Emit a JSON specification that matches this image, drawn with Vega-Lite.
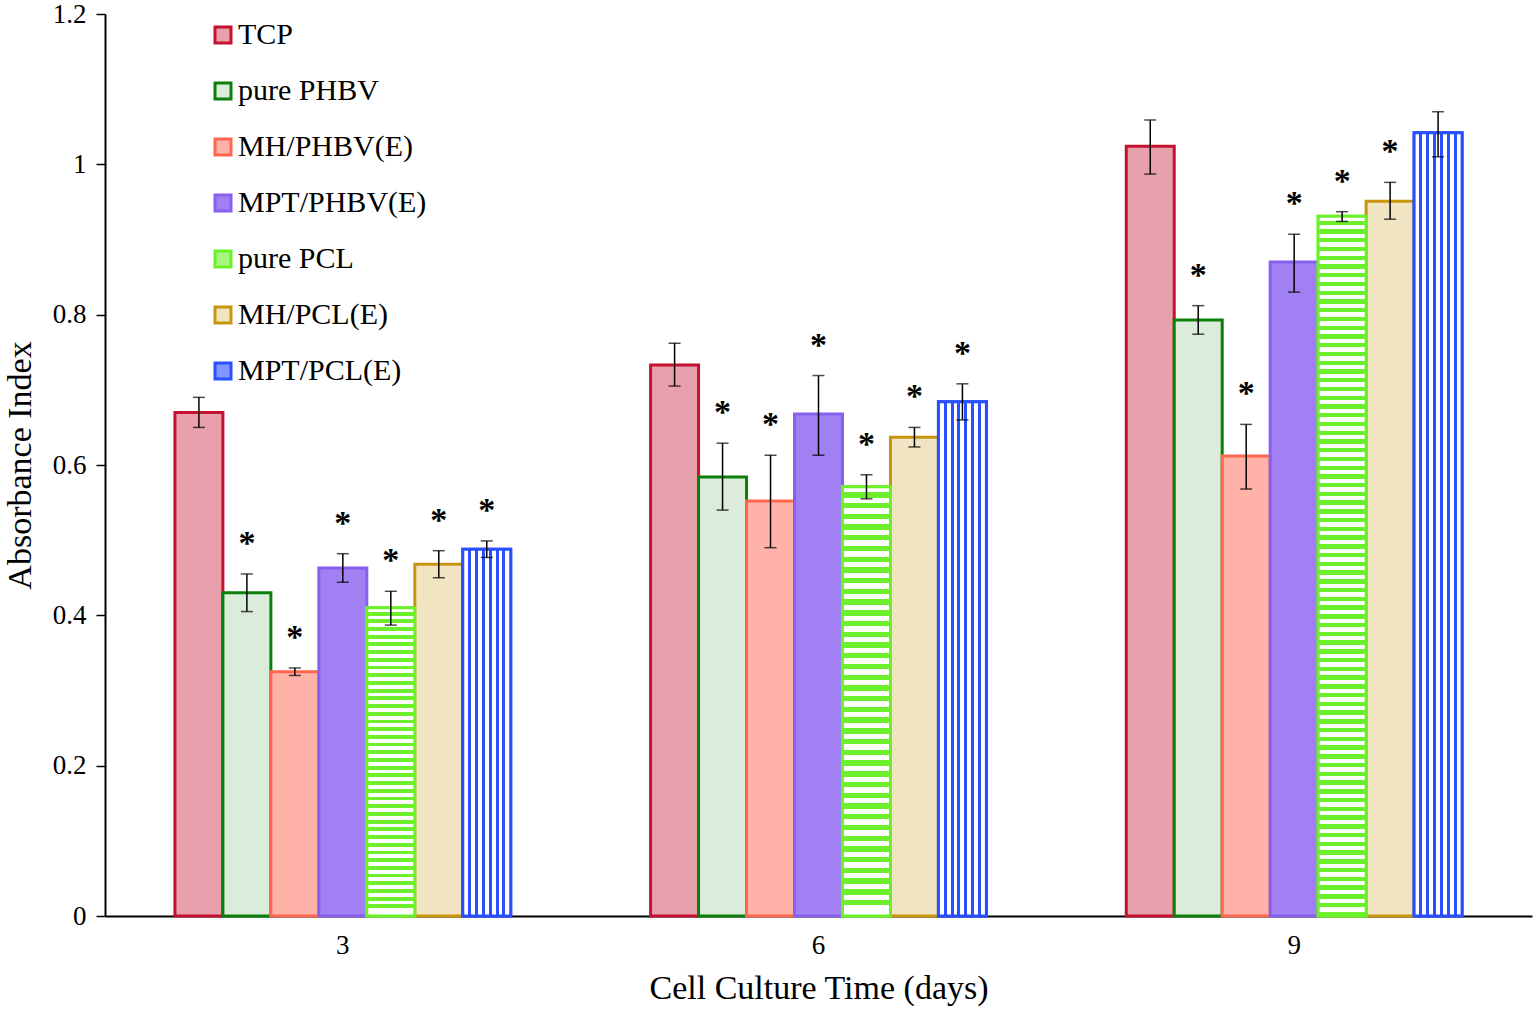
{
  "$schema": "https://vega.github.io/schema/vega-lite/v6.json",
  "width": 1427,
  "height": 902,
  "autosize": {"type": "none"},
  "padding": {"left": 105, "top": 14, "right": 4, "bottom": 94},
  "background": "white",
  "config": {
    "font": "Liberation Serif",
    "view": {"stroke": null},
    "axis": {
      "grid": false,
      "domainColor": "black",
      "domainWidth": 2,
      "tickColor": "black",
      "labelColor": "black",
      "titleColor": "black",
      "labelFont": "Liberation Serif",
      "titleFont": "Liberation Serif",
      "titleFontWeight": "normal"
    },
    "legend": {
      "orient": "none",
      "legendX": 103,
      "legendY": 6,
      "padding": 0,
      "labelFont": "Liberation Serif",
      "labelFontSize": 30,
      "labelColor": "black",
      "labelLimit": 400,
      "labelOffset": 0,
      "symbolType": "square",
      "symbolSize": 256,
      "symbolStrokeWidth": 3,
      "rowPadding": 26
    }
  },
  "data": {
    "values": [
      {"day": "3", "sample": "TCP", "value": 0.670, "lo": 0.650, "hi": 0.690, "sig": ""},
      {"day": "3", "sample": "pure PHBV", "value": 0.430, "lo": 0.405, "hi": 0.455, "sig": "*"},
      {"day": "3", "sample": "MH/PHBV(E)", "value": 0.325, "lo": 0.320, "hi": 0.330, "sig": "*"},
      {"day": "3", "sample": "MPT/PHBV(E)", "value": 0.463, "lo": 0.444, "hi": 0.482, "sig": "*"},
      {"day": "3", "sample": "pure PCL", "value": 0.410, "lo": 0.387, "hi": 0.432, "sig": "*"},
      {"day": "3", "sample": "MH/PCL(E)", "value": 0.468, "lo": 0.450, "hi": 0.486, "sig": "*"},
      {"day": "3", "sample": "MPT/PCL(E)", "value": 0.488, "lo": 0.477, "hi": 0.499, "sig": "*"},
      {"day": "6", "sample": "TCP", "value": 0.733, "lo": 0.705, "hi": 0.762, "sig": ""},
      {"day": "6", "sample": "pure PHBV", "value": 0.584, "lo": 0.540, "hi": 0.629, "sig": "*"},
      {"day": "6", "sample": "MH/PHBV(E)", "value": 0.552, "lo": 0.490, "hi": 0.613, "sig": "*"},
      {"day": "6", "sample": "MPT/PHBV(E)", "value": 0.668, "lo": 0.613, "hi": 0.719, "sig": "*"},
      {"day": "6", "sample": "pure PCL", "value": 0.571, "lo": 0.555, "hi": 0.587, "sig": "*"},
      {"day": "6", "sample": "MH/PCL(E)", "value": 0.637, "lo": 0.624, "hi": 0.650, "sig": "*"},
      {"day": "6", "sample": "MPT/PCL(E)", "value": 0.684, "lo": 0.660, "hi": 0.708, "sig": "*"},
      {"day": "9", "sample": "TCP", "value": 1.024, "lo": 0.987, "hi": 1.059, "sig": ""},
      {"day": "9", "sample": "pure PHBV", "value": 0.793, "lo": 0.774, "hi": 0.812, "sig": "*"},
      {"day": "9", "sample": "MH/PHBV(E)", "value": 0.612, "lo": 0.568, "hi": 0.654, "sig": "*"},
      {"day": "9", "sample": "MPT/PHBV(E)", "value": 0.870, "lo": 0.830, "hi": 0.907, "sig": "*"},
      {"day": "9", "sample": "pure PCL", "value": 0.931, "lo": 0.924, "hi": 0.937, "sig": "*"},
      {"day": "9", "sample": "MH/PCL(E)", "value": 0.951, "lo": 0.927, "hi": 0.976, "sig": "*"},
      {"day": "9", "sample": "MPT/PCL(E)", "value": 1.042, "lo": 1.010, "hi": 1.070, "sig": ""}
    ]
  },
  "encoding": {
    "x": {
      "field": "day",
      "type": "ordinal",
      "scale": {"paddingInner": 0.294, "paddingOuter": 0.147},
      "axis": {
        "title": "Cell Culture Time (days)",
        "titleFontSize": 34,
        "titlePadding": 13,
        "labelFontSize": 27,
        "labelAngle": 0,
        "labelPadding": 16,
        "ticks": false
      }
    },
    "xOffset": {
      "field": "sample",
      "type": "nominal",
      "sort": ["TCP", "pure PHBV", "MH/PHBV(E)", "MPT/PHBV(E)", "pure PCL", "MH/PCL(E)", "MPT/PCL(E)"],
      "scale": {"paddingInner": 0, "paddingOuter": 0}
    },
    "y": {
      "field": "value",
      "type": "quantitative",
      "scale": {"domain": [0, 1.2], "nice": false},
      "axis": {
        "title": "Absorbance Index",
        "titleFontSize": 34,
        "titleX": -68,
        "labelFontSize": 27,
        "labelPadding": 10,
        "tickSize": 9,
        "tickWidth": 1.5,
        "values": [0, 0.2, 0.4, 0.6, 0.8, 1, 1.2],
        "format": ".1~f"
      }
    }
  },
  "layer": [
    {
      "mark": {"type": "bar", "strokeWidth": 3},
      "encoding": {
        "fill": {
          "field": "sample",
          "type": "nominal",
          "title": null,
          "scale": {
            "domain": ["TCP", "pure PHBV", "MH/PHBV(E)", "MPT/PHBV(E)", "pure PCL", "MH/PCL(E)", "MPT/PCL(E)"],
            "range": ["#e7a0ac", "#dbecdb", "#ffb3a8", "#a080f3", "#a7f67f", "#f1e4c2", "#7f95ff"]
          }
        },
        "stroke": {
          "field": "sample",
          "type": "nominal",
          "title": null,
          "scale": {
            "domain": ["TCP", "pure PHBV", "MH/PHBV(E)", "MPT/PHBV(E)", "pure PCL", "MH/PCL(E)", "MPT/PCL(E)"],
            "range": ["#c41230", "#0a800a", "#ff6650", "#8860f0", "#6cf02a", "#c8960c", "#2a4fff"]
          }
        }
      }
    },
    {
      "transform": [{"filter": "datum.sample === 'MPT/PCL(E)'"}],
      "mark": {
        "type": "bar",
        "stroke": "#2a4fff",
        "strokeWidth": 3,
        "fill": {
          "gradient": "linear",
          "x1": 0, "y1": 0, "x2": 1, "y2": 0,
          "stops": [
            {"offset": 0, "color": "white"},
            {"offset": 0.1116, "color": "white"}, {"offset": 0.1116, "color": "#2a4fff"},
            {"offset": 0.1741, "color": "#2a4fff"}, {"offset": 0.1741, "color": "white"},
            {"offset": 0.2545, "color": "white"}, {"offset": 0.2545, "color": "#2a4fff"},
            {"offset": 0.3170, "color": "#2a4fff"}, {"offset": 0.3170, "color": "white"},
            {"offset": 0.3973, "color": "white"}, {"offset": 0.3973, "color": "#2a4fff"},
            {"offset": 0.4598, "color": "#2a4fff"}, {"offset": 0.4598, "color": "white"},
            {"offset": 0.5402, "color": "white"}, {"offset": 0.5402, "color": "#2a4fff"},
            {"offset": 0.6027, "color": "#2a4fff"}, {"offset": 0.6027, "color": "white"},
            {"offset": 0.6830, "color": "white"}, {"offset": 0.6830, "color": "#2a4fff"},
            {"offset": 0.7455, "color": "#2a4fff"}, {"offset": 0.7455, "color": "white"},
            {"offset": 0.8259, "color": "white"}, {"offset": 0.8259, "color": "#2a4fff"},
            {"offset": 0.8884, "color": "#2a4fff"}, {"offset": 0.8884, "color": "white"},
            {"offset": 1, "color": "white"}
          ]
        }
      }
    },
    {
      "transform": [{"filter": "datum.sample === 'pure PCL' && datum.day !== '9'"}],
      "mark": {
        "type": "bar",
        "stroke": "#6cf02a",
        "strokeWidth": 3,
        "fill": {
          "gradient": "linear",
          "x1": 0, "y1": 0, "x2": 0, "y2": 1,
          "stops": [
            {"offset": 0, "color": "white"},
            {"offset": 0.0125, "color": "white"}, {"offset": 0.0125, "color": "#6cf02a"}, {"offset": 0.025, "color": "#6cf02a"}, {"offset": 0.025, "color": "white"},
            {"offset": 0.0375, "color": "white"}, {"offset": 0.0375, "color": "#6cf02a"}, {"offset": 0.05, "color": "#6cf02a"}, {"offset": 0.05, "color": "white"},
            {"offset": 0.0625, "color": "white"}, {"offset": 0.0625, "color": "#6cf02a"}, {"offset": 0.075, "color": "#6cf02a"}, {"offset": 0.075, "color": "white"},
            {"offset": 0.0875, "color": "white"}, {"offset": 0.0875, "color": "#6cf02a"}, {"offset": 0.1, "color": "#6cf02a"}, {"offset": 0.1, "color": "white"},
            {"offset": 0.1125, "color": "white"}, {"offset": 0.1125, "color": "#6cf02a"}, {"offset": 0.125, "color": "#6cf02a"}, {"offset": 0.125, "color": "white"},
            {"offset": 0.1375, "color": "white"}, {"offset": 0.1375, "color": "#6cf02a"}, {"offset": 0.15, "color": "#6cf02a"}, {"offset": 0.15, "color": "white"},
            {"offset": 0.1625, "color": "white"}, {"offset": 0.1625, "color": "#6cf02a"}, {"offset": 0.175, "color": "#6cf02a"}, {"offset": 0.175, "color": "white"},
            {"offset": 0.1875, "color": "white"}, {"offset": 0.1875, "color": "#6cf02a"}, {"offset": 0.2, "color": "#6cf02a"}, {"offset": 0.2, "color": "white"},
            {"offset": 0.2125, "color": "white"}, {"offset": 0.2125, "color": "#6cf02a"}, {"offset": 0.225, "color": "#6cf02a"}, {"offset": 0.225, "color": "white"},
            {"offset": 0.2375, "color": "white"}, {"offset": 0.2375, "color": "#6cf02a"}, {"offset": 0.25, "color": "#6cf02a"}, {"offset": 0.25, "color": "white"},
            {"offset": 0.2625, "color": "white"}, {"offset": 0.2625, "color": "#6cf02a"}, {"offset": 0.275, "color": "#6cf02a"}, {"offset": 0.275, "color": "white"},
            {"offset": 0.2875, "color": "white"}, {"offset": 0.2875, "color": "#6cf02a"}, {"offset": 0.3, "color": "#6cf02a"}, {"offset": 0.3, "color": "white"},
            {"offset": 0.3125, "color": "white"}, {"offset": 0.3125, "color": "#6cf02a"}, {"offset": 0.325, "color": "#6cf02a"}, {"offset": 0.325, "color": "white"},
            {"offset": 0.3375, "color": "white"}, {"offset": 0.3375, "color": "#6cf02a"}, {"offset": 0.35, "color": "#6cf02a"}, {"offset": 0.35, "color": "white"},
            {"offset": 0.3625, "color": "white"}, {"offset": 0.3625, "color": "#6cf02a"}, {"offset": 0.375, "color": "#6cf02a"}, {"offset": 0.375, "color": "white"},
            {"offset": 0.3875, "color": "white"}, {"offset": 0.3875, "color": "#6cf02a"}, {"offset": 0.4, "color": "#6cf02a"}, {"offset": 0.4, "color": "white"},
            {"offset": 0.4125, "color": "white"}, {"offset": 0.4125, "color": "#6cf02a"}, {"offset": 0.425, "color": "#6cf02a"}, {"offset": 0.425, "color": "white"},
            {"offset": 0.4375, "color": "white"}, {"offset": 0.4375, "color": "#6cf02a"}, {"offset": 0.45, "color": "#6cf02a"}, {"offset": 0.45, "color": "white"},
            {"offset": 0.4625, "color": "white"}, {"offset": 0.4625, "color": "#6cf02a"}, {"offset": 0.475, "color": "#6cf02a"}, {"offset": 0.475, "color": "white"},
            {"offset": 0.4875, "color": "white"}, {"offset": 0.4875, "color": "#6cf02a"}, {"offset": 0.5, "color": "#6cf02a"}, {"offset": 0.5, "color": "white"},
            {"offset": 0.5125, "color": "white"}, {"offset": 0.5125, "color": "#6cf02a"}, {"offset": 0.525, "color": "#6cf02a"}, {"offset": 0.525, "color": "white"},
            {"offset": 0.5375, "color": "white"}, {"offset": 0.5375, "color": "#6cf02a"}, {"offset": 0.55, "color": "#6cf02a"}, {"offset": 0.55, "color": "white"},
            {"offset": 0.5625, "color": "white"}, {"offset": 0.5625, "color": "#6cf02a"}, {"offset": 0.575, "color": "#6cf02a"}, {"offset": 0.575, "color": "white"},
            {"offset": 0.5875, "color": "white"}, {"offset": 0.5875, "color": "#6cf02a"}, {"offset": 0.6, "color": "#6cf02a"}, {"offset": 0.6, "color": "white"},
            {"offset": 0.6125, "color": "white"}, {"offset": 0.6125, "color": "#6cf02a"}, {"offset": 0.625, "color": "#6cf02a"}, {"offset": 0.625, "color": "white"},
            {"offset": 0.6375, "color": "white"}, {"offset": 0.6375, "color": "#6cf02a"}, {"offset": 0.65, "color": "#6cf02a"}, {"offset": 0.65, "color": "white"},
            {"offset": 0.6625, "color": "white"}, {"offset": 0.6625, "color": "#6cf02a"}, {"offset": 0.675, "color": "#6cf02a"}, {"offset": 0.675, "color": "white"},
            {"offset": 0.6875, "color": "white"}, {"offset": 0.6875, "color": "#6cf02a"}, {"offset": 0.7, "color": "#6cf02a"}, {"offset": 0.7, "color": "white"},
            {"offset": 0.7125, "color": "white"}, {"offset": 0.7125, "color": "#6cf02a"}, {"offset": 0.725, "color": "#6cf02a"}, {"offset": 0.725, "color": "white"},
            {"offset": 0.7375, "color": "white"}, {"offset": 0.7375, "color": "#6cf02a"}, {"offset": 0.75, "color": "#6cf02a"}, {"offset": 0.75, "color": "white"},
            {"offset": 0.7625, "color": "white"}, {"offset": 0.7625, "color": "#6cf02a"}, {"offset": 0.775, "color": "#6cf02a"}, {"offset": 0.775, "color": "white"},
            {"offset": 0.7875, "color": "white"}, {"offset": 0.7875, "color": "#6cf02a"}, {"offset": 0.8, "color": "#6cf02a"}, {"offset": 0.8, "color": "white"},
            {"offset": 0.8125, "color": "white"}, {"offset": 0.8125, "color": "#6cf02a"}, {"offset": 0.825, "color": "#6cf02a"}, {"offset": 0.825, "color": "white"},
            {"offset": 0.8375, "color": "white"}, {"offset": 0.8375, "color": "#6cf02a"}, {"offset": 0.85, "color": "#6cf02a"}, {"offset": 0.85, "color": "white"},
            {"offset": 0.8625, "color": "white"}, {"offset": 0.8625, "color": "#6cf02a"}, {"offset": 0.875, "color": "#6cf02a"}, {"offset": 0.875, "color": "white"},
            {"offset": 0.8875, "color": "white"}, {"offset": 0.8875, "color": "#6cf02a"}, {"offset": 0.9, "color": "#6cf02a"}, {"offset": 0.9, "color": "white"},
            {"offset": 0.9125, "color": "white"}, {"offset": 0.9125, "color": "#6cf02a"}, {"offset": 0.925, "color": "#6cf02a"}, {"offset": 0.925, "color": "white"},
            {"offset": 0.9375, "color": "white"}, {"offset": 0.9375, "color": "#6cf02a"}, {"offset": 0.95, "color": "#6cf02a"}, {"offset": 0.95, "color": "white"},
            {"offset": 0.9625, "color": "white"}, {"offset": 0.9625, "color": "#6cf02a"}, {"offset": 0.975, "color": "#6cf02a"}, {"offset": 0.975, "color": "white"},
            {"offset": 1, "color": "white"}
          ]
        }
      }
    },
    {
      "transform": [{"filter": "datum.sample === 'pure PCL' && datum.day === '9'"}],
      "mark": {
        "type": "bar",
        "stroke": "#6cf02a",
        "strokeWidth": 3,
        "fill": {
          "gradient": "linear",
          "x1": 0, "y1": 0, "x2": 0, "y2": 1,
          "stops": [
            {"offset": 0, "color": "#fff"},
            {"offset": 0.00625, "color": "#fff"}, {"offset": 0.00625, "color": "#6cf02a"}, {"offset": 0.0125, "color": "#6cf02a"}, {"offset": 0.0125, "color": "#fff"},
            {"offset": 0.01875, "color": "#fff"}, {"offset": 0.01875, "color": "#6cf02a"}, {"offset": 0.025, "color": "#6cf02a"}, {"offset": 0.025, "color": "#fff"},
            {"offset": 0.03125, "color": "#fff"}, {"offset": 0.03125, "color": "#6cf02a"}, {"offset": 0.0375, "color": "#6cf02a"}, {"offset": 0.0375, "color": "#fff"},
            {"offset": 0.04375, "color": "#fff"}, {"offset": 0.04375, "color": "#6cf02a"}, {"offset": 0.05, "color": "#6cf02a"}, {"offset": 0.05, "color": "#fff"},
            {"offset": 0.05625, "color": "#fff"}, {"offset": 0.05625, "color": "#6cf02a"}, {"offset": 0.0625, "color": "#6cf02a"}, {"offset": 0.0625, "color": "#fff"},
            {"offset": 0.06875, "color": "#fff"}, {"offset": 0.06875, "color": "#6cf02a"}, {"offset": 0.075, "color": "#6cf02a"}, {"offset": 0.075, "color": "#fff"},
            {"offset": 0.08125, "color": "#fff"}, {"offset": 0.08125, "color": "#6cf02a"}, {"offset": 0.0875, "color": "#6cf02a"}, {"offset": 0.0875, "color": "#fff"},
            {"offset": 0.09375, "color": "#fff"}, {"offset": 0.09375, "color": "#6cf02a"}, {"offset": 0.1, "color": "#6cf02a"}, {"offset": 0.1, "color": "#fff"},
            {"offset": 0.10625, "color": "#fff"}, {"offset": 0.10625, "color": "#6cf02a"}, {"offset": 0.1125, "color": "#6cf02a"}, {"offset": 0.1125, "color": "#fff"},
            {"offset": 0.11875, "color": "#fff"}, {"offset": 0.11875, "color": "#6cf02a"}, {"offset": 0.125, "color": "#6cf02a"}, {"offset": 0.125, "color": "#fff"},
            {"offset": 0.13125, "color": "#fff"}, {"offset": 0.13125, "color": "#6cf02a"}, {"offset": 0.1375, "color": "#6cf02a"}, {"offset": 0.1375, "color": "#fff"},
            {"offset": 0.14375, "color": "#fff"}, {"offset": 0.14375, "color": "#6cf02a"}, {"offset": 0.15, "color": "#6cf02a"}, {"offset": 0.15, "color": "#fff"},
            {"offset": 0.15625, "color": "#fff"}, {"offset": 0.15625, "color": "#6cf02a"}, {"offset": 0.1625, "color": "#6cf02a"}, {"offset": 0.1625, "color": "#fff"},
            {"offset": 0.16875, "color": "#fff"}, {"offset": 0.16875, "color": "#6cf02a"}, {"offset": 0.175, "color": "#6cf02a"}, {"offset": 0.175, "color": "#fff"},
            {"offset": 0.18125, "color": "#fff"}, {"offset": 0.18125, "color": "#6cf02a"}, {"offset": 0.1875, "color": "#6cf02a"}, {"offset": 0.1875, "color": "#fff"},
            {"offset": 0.19375, "color": "#fff"}, {"offset": 0.19375, "color": "#6cf02a"}, {"offset": 0.2, "color": "#6cf02a"}, {"offset": 0.2, "color": "#fff"},
            {"offset": 0.20625, "color": "#fff"}, {"offset": 0.20625, "color": "#6cf02a"}, {"offset": 0.2125, "color": "#6cf02a"}, {"offset": 0.2125, "color": "#fff"},
            {"offset": 0.21875, "color": "#fff"}, {"offset": 0.21875, "color": "#6cf02a"}, {"offset": 0.225, "color": "#6cf02a"}, {"offset": 0.225, "color": "#fff"},
            {"offset": 0.23125, "color": "#fff"}, {"offset": 0.23125, "color": "#6cf02a"}, {"offset": 0.2375, "color": "#6cf02a"}, {"offset": 0.2375, "color": "#fff"},
            {"offset": 0.24375, "color": "#fff"}, {"offset": 0.24375, "color": "#6cf02a"}, {"offset": 0.25, "color": "#6cf02a"}, {"offset": 0.25, "color": "#fff"},
            {"offset": 0.25625, "color": "#fff"}, {"offset": 0.25625, "color": "#6cf02a"}, {"offset": 0.2625, "color": "#6cf02a"}, {"offset": 0.2625, "color": "#fff"},
            {"offset": 0.26875, "color": "#fff"}, {"offset": 0.26875, "color": "#6cf02a"}, {"offset": 0.275, "color": "#6cf02a"}, {"offset": 0.275, "color": "#fff"},
            {"offset": 0.28125, "color": "#fff"}, {"offset": 0.28125, "color": "#6cf02a"}, {"offset": 0.2875, "color": "#6cf02a"}, {"offset": 0.2875, "color": "#fff"},
            {"offset": 0.29375, "color": "#fff"}, {"offset": 0.29375, "color": "#6cf02a"}, {"offset": 0.3, "color": "#6cf02a"}, {"offset": 0.3, "color": "#fff"},
            {"offset": 0.30625, "color": "#fff"}, {"offset": 0.30625, "color": "#6cf02a"}, {"offset": 0.3125, "color": "#6cf02a"}, {"offset": 0.3125, "color": "#fff"},
            {"offset": 0.31875, "color": "#fff"}, {"offset": 0.31875, "color": "#6cf02a"}, {"offset": 0.325, "color": "#6cf02a"}, {"offset": 0.325, "color": "#fff"},
            {"offset": 0.33125, "color": "#fff"}, {"offset": 0.33125, "color": "#6cf02a"}, {"offset": 0.3375, "color": "#6cf02a"}, {"offset": 0.3375, "color": "#fff"},
            {"offset": 0.34375, "color": "#fff"}, {"offset": 0.34375, "color": "#6cf02a"}, {"offset": 0.35, "color": "#6cf02a"}, {"offset": 0.35, "color": "#fff"},
            {"offset": 0.35625, "color": "#fff"}, {"offset": 0.35625, "color": "#6cf02a"}, {"offset": 0.3625, "color": "#6cf02a"}, {"offset": 0.3625, "color": "#fff"},
            {"offset": 0.36875, "color": "#fff"}, {"offset": 0.36875, "color": "#6cf02a"}, {"offset": 0.375, "color": "#6cf02a"}, {"offset": 0.375, "color": "#fff"},
            {"offset": 0.38125, "color": "#fff"}, {"offset": 0.38125, "color": "#6cf02a"}, {"offset": 0.3875, "color": "#6cf02a"}, {"offset": 0.3875, "color": "#fff"},
            {"offset": 0.39375, "color": "#fff"}, {"offset": 0.39375, "color": "#6cf02a"}, {"offset": 0.4, "color": "#6cf02a"}, {"offset": 0.4, "color": "#fff"},
            {"offset": 0.40625, "color": "#fff"}, {"offset": 0.40625, "color": "#6cf02a"}, {"offset": 0.4125, "color": "#6cf02a"}, {"offset": 0.4125, "color": "#fff"},
            {"offset": 0.41875, "color": "#fff"}, {"offset": 0.41875, "color": "#6cf02a"}, {"offset": 0.425, "color": "#6cf02a"}, {"offset": 0.425, "color": "#fff"},
            {"offset": 0.43125, "color": "#fff"}, {"offset": 0.43125, "color": "#6cf02a"}, {"offset": 0.4375, "color": "#6cf02a"}, {"offset": 0.4375, "color": "#fff"},
            {"offset": 0.44375, "color": "#fff"}, {"offset": 0.44375, "color": "#6cf02a"}, {"offset": 0.45, "color": "#6cf02a"}, {"offset": 0.45, "color": "#fff"},
            {"offset": 0.45625, "color": "#fff"}, {"offset": 0.45625, "color": "#6cf02a"}, {"offset": 0.4625, "color": "#6cf02a"}, {"offset": 0.4625, "color": "#fff"},
            {"offset": 0.46875, "color": "#fff"}, {"offset": 0.46875, "color": "#6cf02a"}, {"offset": 0.475, "color": "#6cf02a"}, {"offset": 0.475, "color": "#fff"},
            {"offset": 0.48125, "color": "#fff"}, {"offset": 0.48125, "color": "#6cf02a"}, {"offset": 0.4875, "color": "#6cf02a"}, {"offset": 0.4875, "color": "#fff"},
            {"offset": 0.49375, "color": "#fff"}, {"offset": 0.49375, "color": "#6cf02a"}, {"offset": 0.5, "color": "#6cf02a"}, {"offset": 0.5, "color": "#fff"},
            {"offset": 0.50625, "color": "#fff"}, {"offset": 0.50625, "color": "#6cf02a"}, {"offset": 0.5125, "color": "#6cf02a"}, {"offset": 0.5125, "color": "#fff"},
            {"offset": 0.51875, "color": "#fff"}, {"offset": 0.51875, "color": "#6cf02a"}, {"offset": 0.525, "color": "#6cf02a"}, {"offset": 0.525, "color": "#fff"},
            {"offset": 0.53125, "color": "#fff"}, {"offset": 0.53125, "color": "#6cf02a"}, {"offset": 0.5375, "color": "#6cf02a"}, {"offset": 0.5375, "color": "#fff"},
            {"offset": 0.54375, "color": "#fff"}, {"offset": 0.54375, "color": "#6cf02a"}, {"offset": 0.55, "color": "#6cf02a"}, {"offset": 0.55, "color": "#fff"},
            {"offset": 0.55625, "color": "#fff"}, {"offset": 0.55625, "color": "#6cf02a"}, {"offset": 0.5625, "color": "#6cf02a"}, {"offset": 0.5625, "color": "#fff"},
            {"offset": 0.56875, "color": "#fff"}, {"offset": 0.56875, "color": "#6cf02a"}, {"offset": 0.575, "color": "#6cf02a"}, {"offset": 0.575, "color": "#fff"},
            {"offset": 0.58125, "color": "#fff"}, {"offset": 0.58125, "color": "#6cf02a"}, {"offset": 0.5875, "color": "#6cf02a"}, {"offset": 0.5875, "color": "#fff"},
            {"offset": 0.59375, "color": "#fff"}, {"offset": 0.59375, "color": "#6cf02a"}, {"offset": 0.6, "color": "#6cf02a"}, {"offset": 0.6, "color": "#fff"},
            {"offset": 0.60625, "color": "#fff"}, {"offset": 0.60625, "color": "#6cf02a"}, {"offset": 0.6125, "color": "#6cf02a"}, {"offset": 0.6125, "color": "#fff"},
            {"offset": 0.61875, "color": "#fff"}, {"offset": 0.61875, "color": "#6cf02a"}, {"offset": 0.625, "color": "#6cf02a"}, {"offset": 0.625, "color": "#fff"},
            {"offset": 0.63125, "color": "#fff"}, {"offset": 0.63125, "color": "#6cf02a"}, {"offset": 0.6375, "color": "#6cf02a"}, {"offset": 0.6375, "color": "#fff"},
            {"offset": 0.64375, "color": "#fff"}, {"offset": 0.64375, "color": "#6cf02a"}, {"offset": 0.65, "color": "#6cf02a"}, {"offset": 0.65, "color": "#fff"},
            {"offset": 0.65625, "color": "#fff"}, {"offset": 0.65625, "color": "#6cf02a"}, {"offset": 0.6625, "color": "#6cf02a"}, {"offset": 0.6625, "color": "#fff"},
            {"offset": 0.66875, "color": "#fff"}, {"offset": 0.66875, "color": "#6cf02a"}, {"offset": 0.675, "color": "#6cf02a"}, {"offset": 0.675, "color": "#fff"},
            {"offset": 0.68125, "color": "#fff"}, {"offset": 0.68125, "color": "#6cf02a"}, {"offset": 0.6875, "color": "#6cf02a"}, {"offset": 0.6875, "color": "#fff"},
            {"offset": 0.69375, "color": "#fff"}, {"offset": 0.69375, "color": "#6cf02a"}, {"offset": 0.7, "color": "#6cf02a"}, {"offset": 0.7, "color": "#fff"},
            {"offset": 0.70625, "color": "#fff"}, {"offset": 0.70625, "color": "#6cf02a"}, {"offset": 0.7125, "color": "#6cf02a"}, {"offset": 0.7125, "color": "#fff"},
            {"offset": 0.71875, "color": "#fff"}, {"offset": 0.71875, "color": "#6cf02a"}, {"offset": 0.725, "color": "#6cf02a"}, {"offset": 0.725, "color": "#fff"},
            {"offset": 0.73125, "color": "#fff"}, {"offset": 0.73125, "color": "#6cf02a"}, {"offset": 0.7375, "color": "#6cf02a"}, {"offset": 0.7375, "color": "#fff"},
            {"offset": 0.74375, "color": "#fff"}, {"offset": 0.74375, "color": "#6cf02a"}, {"offset": 0.75, "color": "#6cf02a"}, {"offset": 0.75, "color": "#fff"},
            {"offset": 0.75625, "color": "#fff"}, {"offset": 0.75625, "color": "#6cf02a"}, {"offset": 0.7625, "color": "#6cf02a"}, {"offset": 0.7625, "color": "#fff"},
            {"offset": 0.76875, "color": "#fff"}, {"offset": 0.76875, "color": "#6cf02a"}, {"offset": 0.775, "color": "#6cf02a"}, {"offset": 0.775, "color": "#fff"},
            {"offset": 0.78125, "color": "#fff"}, {"offset": 0.78125, "color": "#6cf02a"}, {"offset": 0.7875, "color": "#6cf02a"}, {"offset": 0.7875, "color": "#fff"},
            {"offset": 0.79375, "color": "#fff"}, {"offset": 0.79375, "color": "#6cf02a"}, {"offset": 0.8, "color": "#6cf02a"}, {"offset": 0.8, "color": "#fff"},
            {"offset": 0.80625, "color": "#fff"}, {"offset": 0.80625, "color": "#6cf02a"}, {"offset": 0.8125, "color": "#6cf02a"}, {"offset": 0.8125, "color": "#fff"},
            {"offset": 0.81875, "color": "#fff"}, {"offset": 0.81875, "color": "#6cf02a"}, {"offset": 0.825, "color": "#6cf02a"}, {"offset": 0.825, "color": "#fff"},
            {"offset": 0.83125, "color": "#fff"}, {"offset": 0.83125, "color": "#6cf02a"}, {"offset": 0.8375, "color": "#6cf02a"}, {"offset": 0.8375, "color": "#fff"},
            {"offset": 0.84375, "color": "#fff"}, {"offset": 0.84375, "color": "#6cf02a"}, {"offset": 0.85, "color": "#6cf02a"}, {"offset": 0.85, "color": "#fff"},
            {"offset": 0.85625, "color": "#fff"}, {"offset": 0.85625, "color": "#6cf02a"}, {"offset": 0.8625, "color": "#6cf02a"}, {"offset": 0.8625, "color": "#fff"},
            {"offset": 0.86875, "color": "#fff"}, {"offset": 0.86875, "color": "#6cf02a"}, {"offset": 0.875, "color": "#6cf02a"}, {"offset": 0.875, "color": "#fff"},
            {"offset": 0.88125, "color": "#fff"}, {"offset": 0.88125, "color": "#6cf02a"}, {"offset": 0.8875, "color": "#6cf02a"}, {"offset": 0.8875, "color": "#fff"},
            {"offset": 0.89375, "color": "#fff"}, {"offset": 0.89375, "color": "#6cf02a"}, {"offset": 0.9, "color": "#6cf02a"}, {"offset": 0.9, "color": "#fff"},
            {"offset": 0.90625, "color": "#fff"}, {"offset": 0.90625, "color": "#6cf02a"}, {"offset": 0.9125, "color": "#6cf02a"}, {"offset": 0.9125, "color": "#fff"},
            {"offset": 0.91875, "color": "#fff"}, {"offset": 0.91875, "color": "#6cf02a"}, {"offset": 0.925, "color": "#6cf02a"}, {"offset": 0.925, "color": "#fff"},
            {"offset": 0.93125, "color": "#fff"}, {"offset": 0.93125, "color": "#6cf02a"}, {"offset": 0.9375, "color": "#6cf02a"}, {"offset": 0.9375, "color": "#fff"},
            {"offset": 0.94375, "color": "#fff"}, {"offset": 0.94375, "color": "#6cf02a"}, {"offset": 0.95, "color": "#6cf02a"}, {"offset": 0.95, "color": "#fff"},
            {"offset": 0.95625, "color": "#fff"}, {"offset": 0.95625, "color": "#6cf02a"}, {"offset": 0.9625, "color": "#6cf02a"}, {"offset": 0.9625, "color": "#fff"},
            {"offset": 0.96875, "color": "#fff"}, {"offset": 0.96875, "color": "#6cf02a"}, {"offset": 0.975, "color": "#6cf02a"}, {"offset": 0.975, "color": "#fff"},
            {"offset": 0.98125, "color": "#fff"}, {"offset": 0.98125, "color": "#6cf02a"}, {"offset": 0.9875, "color": "#6cf02a"}, {"offset": 0.9875, "color": "#fff"},
            {"offset": 0.99375, "color": "#fff"}, {"offset": 0.99375, "color": "#6cf02a"}, {"offset": 1, "color": "#6cf02a"}
          ]
        }
      }
    },
    {
      "mark": {"type": "rule", "color": "black", "strokeWidth": 1.5},
      "encoding": {
        "y": {"field": "lo", "type": "quantitative"},
        "y2": {"field": "hi"}
      }
    },
    {
      "mark": {"type": "tick", "color": "black", "thickness": 1.5, "size": 12},
      "encoding": {"y": {"field": "lo", "type": "quantitative"}}
    },
    {
      "mark": {"type": "tick", "color": "black", "thickness": 1.5, "size": 12},
      "encoding": {"y": {"field": "hi", "type": "quantitative"}}
    },
    {
      "mark": {"type": "text", "fontSize": 34, "fontWeight": "bold", "baseline": "alphabetic", "dy": -20, "color": "black"},
      "encoding": {
        "y": {"field": "hi", "type": "quantitative"},
        "text": {"field": "sig"}
      }
    }
  ]
}
